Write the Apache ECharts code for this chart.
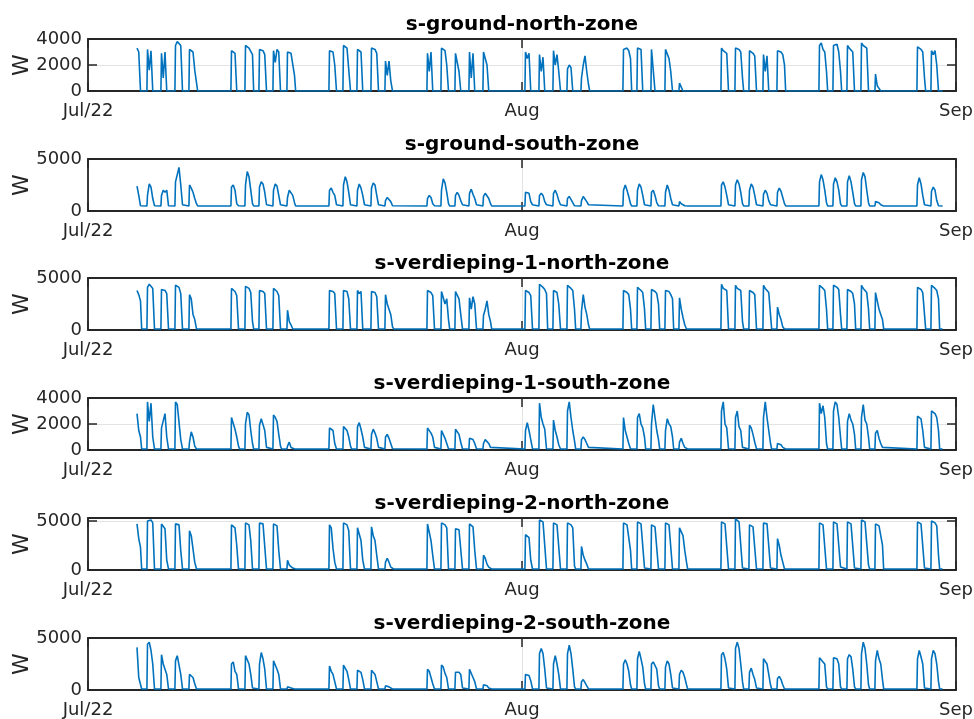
<!DOCTYPE html>
<html>
<head>
<meta charset="utf-8">
<script src="https://cdn.jsdelivr.net/npm/echarts@6/dist/echarts.min.js"></script>
<style>
html, body { margin: 0; padding: 0; background: #fff; }
#main { width: 974px; height: 719px; }
</style>
</head>
<body>
<div id="main"></div>
<script>
// x axis is counted in days from axisStart
var axisStart = '2022-07-01';
var tickLabels = ['Jul/22', 'Aug', 'Sep'];
var tickStepDays = 31;
var axisSpanDays = 62;

// weekdays with heating, one profile per day (W at profileHours)
var workDays = [
    '2022-07-04', '2022-07-05', '2022-07-06', '2022-07-07', '2022-07-08',
    '2022-07-11', '2022-07-12', '2022-07-13', '2022-07-14', '2022-07-15',
    '2022-07-18', '2022-07-19', '2022-07-20', '2022-07-21', '2022-07-22',
    '2022-07-25', '2022-07-26', '2022-07-27', '2022-07-28', '2022-07-29',
    '2022-08-01', '2022-08-02', '2022-08-03', '2022-08-04', '2022-08-05',
    '2022-08-08', '2022-08-09', '2022-08-10', '2022-08-11', '2022-08-12',
    '2022-08-15', '2022-08-16', '2022-08-17', '2022-08-18', '2022-08-19',
    '2022-08-22', '2022-08-23', '2022-08-24', '2022-08-25', '2022-08-26',
    '2022-08-29', '2022-08-30'
];
var profileHours = [6, 9, 12, 15, 18];
var offHours = [5, 20];
var lastSample = '2022-08-31T01:00:00Z';

var titles = [
    's-ground-north-zone',
    's-ground-south-zone',
    's-verdieping-1-north-zone',
    's-verdieping-1-south-zone',
    's-verdieping-2-north-zone',
    's-verdieping-2-south-zone'
];
var baseLoad = [0, 480, 100, 80, 100, 100];
var yMax = [4000, 5000, 5000, 4000, 5300, 5000];
var yStep = [2000, 5000, 5000, 2000, 5000, 5000];

var groundNorth = [
    [null, null, 3300, 3000, 0], [3200, 1600, 3100, 0, 0], [2900, 1000, 3000, 0, 0], [3500, 3800, 3700, 3500, 0], [3200, 3100, 3000, 1600, 1500],
    [3100, 3000, 2900, 0, 0], [3500, 3400, 3300, 3200, 2800], [3200, 3200, 3100, 2800, 0], [3100, 2200, 3200, 3000, 0], [3000, 3000, 2900, 2800, 1200],
    [3100, 3100, 3000, 2000, 0], [3500, 3400, 3300, 3200, 0], [3200, 3100, 3000, 0, 0], [3300, 3300, 3200, 2900, 0], [2300, 1200, 2300, 800, 0],
    [2900, 1500, 3000, 0, 0], [3300, 3400, 3100, 2000, 0], [2900, 2800, 1500, 0, 0], [3000, 1000, 2900, 0, 0], [3000, 3000, 2000, 0, 0],
    [3000, 2500, 2900, 0, 0], [2800, 1500, 2600, 0, 0], [3100, 2000, 2800, 1500, 0], [1700, 2000, 1800, 0, 0], [1000, 2000, 2700, 1500, 500],
    [3200, 3300, 3300, 3100, 2500], [3300, 3300, 3200, 0, 0], [3200, 3200, 0, 0, 0], [3200, 3100, 2500, 1500, 0], [600, 300, 0, 0, 0],
    [3300, 3100, 3000, 2900, 0], [3300, 3300, 3200, 3000, 1000], [3100, 3000, 2900, 2700, 0], [2800, 1500, 2700, 0, 0], [3100, 3100, 3000, 2800, 2000],
    [3500, 3700, 3200, 3000, 1500], [3500, 3400, 3600, 3000, 1500], [3500, 3300, 3400, 3000, 0], [3700, 3500, 3400, 3300, 0], [1300, 400, 200, 0, 0],
    [3400, 3300, 3200, 3000, 1000], [3100, 2800, 3100, 2000, 0]
];

var groundSouth = [
    [null, null, 2400, 1500, 500], [1500, 2600, 2300, 1200, 500], [1500, 2000, 1800, 2000, 500], [2800, 3500, 4200, 2500, 600], [2500, 2200, 1800, 1200, 700],
    [2300, 2500, 2000, 700, 500], [2500, 3800, 3300, 2000, 700], [2300, 2800, 2600, 1800, 600], [2000, 2600, 2400, 1500, 600], [1300, 2000, 2000, 1500, 800],
    [2000, 2200, 1800, 1500, 600], [2500, 3300, 2800, 1800, 600], [2000, 2600, 2200, 1500, 600], [2200, 2700, 2500, 1500, 600], [1000, 1300, 1200, 900, 500],
    [1200, 1500, 1300, 700, 500], [2000, 3100, 2700, 1800, 700], [1500, 1800, 1500, 1000, 600], [1700, 2100, 1600, 1200, 600], [1400, 1700, 1700, 1200, 700],
    [1800, 1900, 1700, 900, 600], [1500, 1700, 1500, 900, 600], [1700, 2000, 1600, 1000, 600], [1200, 1400, 1300, 800, 500], [1000, 1400, 1300, 900, 600],
    [2000, 2500, 2000, 1400, 700], [2000, 2600, 2300, 1500, 600], [1800, 2000, 1500, 800, 500], [1800, 2500, 2000, 1200, 600], [900, 700, 600, 500, 500],
    [2500, 2800, 2300, 1500, 600], [2500, 3000, 2600, 1800, 700], [2000, 2600, 2300, 1500, 600], [1600, 2000, 1700, 1000, 600], [1800, 2200, 1900, 1300, 700],
    [2800, 3500, 3000, 2000, 800], [2600, 3200, 2800, 2000, 700], [2800, 3400, 2800, 1800, 700], [3000, 3700, 3300, 2000, 800], [900, 1050, 800, 600, 500],
    [2500, 3200, 2600, 1500, 600], [1900, 2300, 2000, 1000, 500]
];

var v1North = [
    [null, null, 3800, 3400, 2800], [4100, 4400, 4200, 4000, 100], [3900, 3900, 3800, 3500, 100], [4300, 4400, 4100, 3500, 100], [3400, 3000, 1500, 1000, 100],
    [4000, 3900, 3700, 3300, 100], [4200, 4300, 4000, 3600, 800], [3800, 3900, 3700, 3500, 100], [4000, 3900, 3700, 3300, 100], [1900, 800, 500, 100, 100],
    [3800, 3700, 3700, 3500, 100], [3800, 3800, 3700, 3000, 100], [3800, 3500, 3700, 100, 100], [3700, 3700, 3600, 3200, 100], [3400, 2500, 2000, 1500, 300],
    [3800, 3700, 3600, 3300, 100], [3700, 3600, 2500, 3000, 1000], [3700, 3600, 3000, 1500, 100], [3100, 2000, 3200, 2500, 100], [1400, 2000, 2800, 1500, 800],
    [3800, 3700, 3600, 3300, 100], [4400, 4300, 4100, 3900, 3500], [3800, 3700, 3600, 2500, 100], [4300, 4200, 4000, 3800, 2000], [1800, 3400, 2200, 1500, 500],
    [3800, 3700, 3600, 3400, 2000], [4100, 4000, 3800, 3600, 2000], [3900, 3800, 3700, 3500, 2500], [3800, 3800, 3700, 3400, 3000], [3100, 2000, 1200, 500, 100],
    [4400, 4000, 3900, 3800, 100], [4300, 4000, 3900, 3800, 800], [3800, 3700, 3600, 3400, 100], [4300, 4000, 3900, 3600, 1500], [2200, 1500, 1000, 300, 100],
    [4300, 4200, 4000, 3800, 2000], [4300, 4200, 4100, 3900, 1500], [3900, 3800, 3700, 3500, 2500], [4300, 4000, 3800, 3600, 2000], [3600, 2800, 2000, 1500, 1000],
    [4100, 4000, 3900, 3600, 1500], [4300, 4200, 4000, 3800, 3000]
];

var v1South = [
    [null, null, 2800, 1500, 1000], [3700, 2200, 3600, 1000, 80], [1700, 1800, 2800, 1000, 80], [3700, 3500, 3400, 800, 80], [600, 1400, 1000, 300, 80],
    [2500, 2400, 1600, 1000, 300], [2000, 2900, 2700, 1500, 500], [1900, 2400, 2300, 1500, 200], [2700, 2500, 2200, 1200, 300], [300, 600, 200, 80, 80],
    [1700, 1800, 1500, 500, 80], [1800, 1700, 1500, 1000, 300], [1800, 2100, 1600, 1000, 200], [1200, 1600, 1300, 900, 200], [1000, 1200, 900, 500, 100],
    [1700, 1800, 1300, 1000, 200], [1500, 1400, 900, 500, 100], [1600, 1500, 1200, 600, 100], [900, 900, 800, 500, 100], [500, 800, 800, 500, 200],
    [1500, 2100, 1500, 800, 100], [3600, 2500, 2000, 1600, 100], [2300, 1500, 1000, 400, 80], [3000, 3700, 2500, 1500, 700], [800, 1000, 800, 500, 200],
    [2500, 1500, 1000, 500, 100], [2500, 2800, 2000, 1700, 1000], [2000, 3500, 2500, 1500, 800], [1500, 2400, 2000, 1800, 1000], [600, 900, 500, 200, 100],
    [3000, 3700, 2000, 1700, 100], [2500, 3000, 1800, 1500, 200], [1900, 1700, 1200, 600, 100], [2500, 3700, 2500, 1500, 500], [500, 600, 400, 200, 80],
    [3600, 2800, 3400, 2500, 500], [3000, 3700, 3500, 2500, 1000], [2200, 2800, 2300, 2000, 1200], [2500, 3500, 2300, 2000, 1000], [1300, 1500, 900, 500, 200],
    [2600, 2500, 2400, 1500, 200], [3000, 3000, 2800, 2500, 1500]
];

var v2North = [
    [null, null, 4700, 3200, 2300], [5000, 5200, 5100, 4800, 100], [4700, 4700, 4200, 1000, 100], [4700, 4800, 4600, 2000, 100], [4000, 3500, 3400, 800, 100],
    [4600, 4400, 4300, 2500, 100], [4800, 4800, 4600, 3000, 100], [4800, 4800, 4700, 4500, 100], [4700, 4600, 4500, 2000, 100], [1000, 500, 300, 200, 100],
    [4600, 4300, 2200, 800, 100], [4800, 4700, 4600, 4000, 100], [4300, 4400, 3000, 1000, 100], [4400, 3500, 3000, 1500, 100], [800, 1200, 800, 300, 100],
    [4700, 4500, 3000, 1500, 100], [4800, 4700, 4600, 4300, 100], [4200, 4300, 4100, 4000, 100], [4700, 4600, 4400, 2000, 100], [1500, 1200, 600, 300, 100],
    [3600, 3500, 3300, 1000, 100], [5100, 5000, 4900, 4800, 100], [4800, 4700, 4600, 4400, 100], [4800, 4900, 4600, 4300, 400], [2400, 1500, 1000, 600, 100],
    [4800, 4700, 4600, 4500, 2000], [4900, 4800, 4700, 4600, 200], [4600, 4500, 4400, 4300, 100], [4800, 4700, 4600, 4500, 100], [4300, 4200, 3500, 2000, 800],
    [4900, 4800, 4700, 4500, 100], [5200, 5000, 4900, 4800, 200], [4600, 4500, 4400, 4300, 100], [4800, 4900, 4700, 4500, 200], [3200, 2500, 1500, 800, 100],
    [4800, 4700, 4600, 4500, 100], [4900, 4800, 4700, 4600, 300], [4900, 4800, 4700, 4600, 200], [5100, 5000, 4900, 4800, 500], [4700, 4600, 4500, 3500, 2500],
    [4900, 4800, 4700, 4500, 200], [5000, 4900, 4800, 4500, 1500]
];

var v2South = [
    [null, null, 4100, 1200, 1100], [4400, 4600, 3800, 2500, 100], [3400, 2500, 2000, 1500, 100], [2800, 3300, 3200, 1500, 100], [1500, 1500, 1200, 600, 100],
    [2500, 2700, 1800, 1500, 100], [3300, 3200, 2500, 1500, 200], [2500, 3600, 3000, 2000, 100], [2800, 2700, 2000, 1500, 100], [300, 200, 200, 100, 100],
    [2300, 1800, 1500, 800, 100], [2400, 2300, 1800, 1000, 100], [1900, 1800, 1700, 1000, 100], [1900, 1800, 1500, 800, 100], [400, 400, 300, 200, 100],
    [2000, 1800, 1200, 600, 100], [2400, 2200, 1600, 1200, 100], [1700, 1800, 1700, 1500, 200], [2000, 1900, 1200, 800, 100], [500, 500, 400, 200, 100],
    [1500, 1400, 1400, 900, 100], [3500, 4000, 3500, 2000, 200], [2500, 3300, 2500, 1500, 100], [3500, 4300, 3500, 2000, 300], [800, 1000, 700, 400, 100],
    [2500, 2900, 2500, 1800, 500], [3000, 3700, 3000, 2200, 600], [2500, 2700, 2600, 2000, 400], [2200, 2800, 2500, 1500, 200], [1500, 1900, 1700, 1200, 500],
    [3400, 3600, 3000, 2000, 200], [4000, 4600, 4000, 2500, 800], [1700, 2100, 1500, 1000, 200], [3000, 3100, 2500, 1500, 500], [1100, 1300, 1000, 500, 100],
    [3100, 3000, 2700, 2500, 300], [3100, 3100, 3000, 2500, 300], [3000, 3400, 3200, 2000, 300], [3500, 4600, 4000, 2500, 500], [2800, 3800, 3000, 2500, 1000],
    [3000, 3800, 3200, 2500, 200], [3000, 3800, 3500, 2500, 800]
];

var zones = [groundNorth, groundSouth, v1North, v1South, v2North, v2South];

// layout
var gridTops = [39, 159, 278, 398, 518, 638];
var gridH = 52;
var gridLeft = 88;
var gridRight = 18;
var axisColor = '#262626';
var font = 'DejaVu Sans';

var DAY = 86400000;
var t0 = Date.parse(axisStart + 'T00:00:00Z');

function dayOffset(s) {
    return (Date.parse(s + 'T00:00:00Z') - t0) / DAY;
}

function buildPoints(profiles, base) {
    var pts = [];
    for (var i = 0; i < workDays.length; i++) {
        var d = dayOffset(workDays[i]);
        var p = profiles[i];
        if (p[0] !== null) pts.push([d + offHours[0] / 24, base]);
        for (var j = 0; j < profileHours.length; j++) {
            if (p[j] !== null) pts.push([d + profileHours[j] / 24, p[j]]);
        }
        pts.push([d + offHours[1] / 24, base]);
    }
    pts.push([(Date.parse(lastSample) - t0) / DAY, base]);
    return pts;
}

var boxLine = { show: true, onZero: false, lineStyle: { color: axisColor, width: 1.8 } };
var boxTick = { show: true, inside: true, length: 9, lineStyle: { color: axisColor, width: 1.5 } };
var gridLine = { show: true, lineStyle: { color: '#e3e3e3', width: 1 } };

var grids = [], xAxes = [], yAxes = [], series = [], texts = [];
var midX = gridLeft + (974 - gridLeft - gridRight) / 2;

for (var k = 0; k < zones.length; k++) {
    (function (k) {
        grids.push({
            left: gridLeft, right: gridRight, top: gridTops[k], height: gridH,
            containLabel: false, outerBoundsMode: 'none'
        });
        // bottom x axis
        xAxes.push({
            gridIndex: k, type: 'value', min: 0, max: axisSpanDays, interval: tickStepDays,
            axisLine: boxLine, axisTick: boxTick,
            axisLabel: {
                show: true, margin: 11, fontSize: 18, fontFamily: font, color: axisColor,
                formatter: function (v) { return tickLabels[Math.round(v / tickStepDays)] || ''; }
            },
            splitLine: gridLine
        });
        // top x axis closes the box
        xAxes.push({
            gridIndex: k, type: 'value', position: 'top', min: 0, max: axisSpanDays, interval: tickStepDays,
            axisLine: boxLine, axisTick: boxTick,
            axisLabel: { show: false },
            splitLine: { show: false }
        });
        yAxes.push({
            gridIndex: k, type: 'value', min: 0, max: yMax[k], interval: yStep[k],
            name: 'W', nameLocation: 'middle', nameGap: 55, nameMoveOverlap: false,
            nameTextStyle: { fontSize: 22, fontFamily: font, color: axisColor },
            axisLine: boxLine, axisTick: boxTick,
            axisLabel: {
                show: true, margin: 6, fontSize: 18, fontFamily: font, color: axisColor,
                formatter: function (v) { return v % yStep[k] === 0 ? String(v) : ''; }
            },
            splitLine: gridLine
        });
        yAxes.push({
            gridIndex: k, type: 'value', position: 'right', min: 0, max: yMax[k], interval: yStep[k],
            axisLine: boxLine, axisTick: boxTick,
            axisLabel: { show: false },
            splitLine: { show: false }
        });
        series.push({
            type: 'line', xAxisIndex: 2 * k, yAxisIndex: 2 * k,
            data: buildPoints(zones[k], baseLoad[k]),
            showSymbol: false, silent: true,
            lineStyle: { color: '#0072BD', width: 1.6 }
        });
        texts.push({
            type: 'text', x: midX, y: gridTops[k] - 14,
            style: {
                text: titles[k], fill: '#000',
                font: 'bold 20px "DejaVu Sans"',
                align: 'center', verticalAlign: 'middle'
            }
        });
    })(k);
}

var chart = echarts.init(document.getElementById('main'));
chart.setOption({
    animation: false,
    backgroundColor: '#fff',
    grid: grids,
    xAxis: xAxes,
    yAxis: yAxes,
    series: series,
    graphic: texts
});
</script>
</body>
</html>
